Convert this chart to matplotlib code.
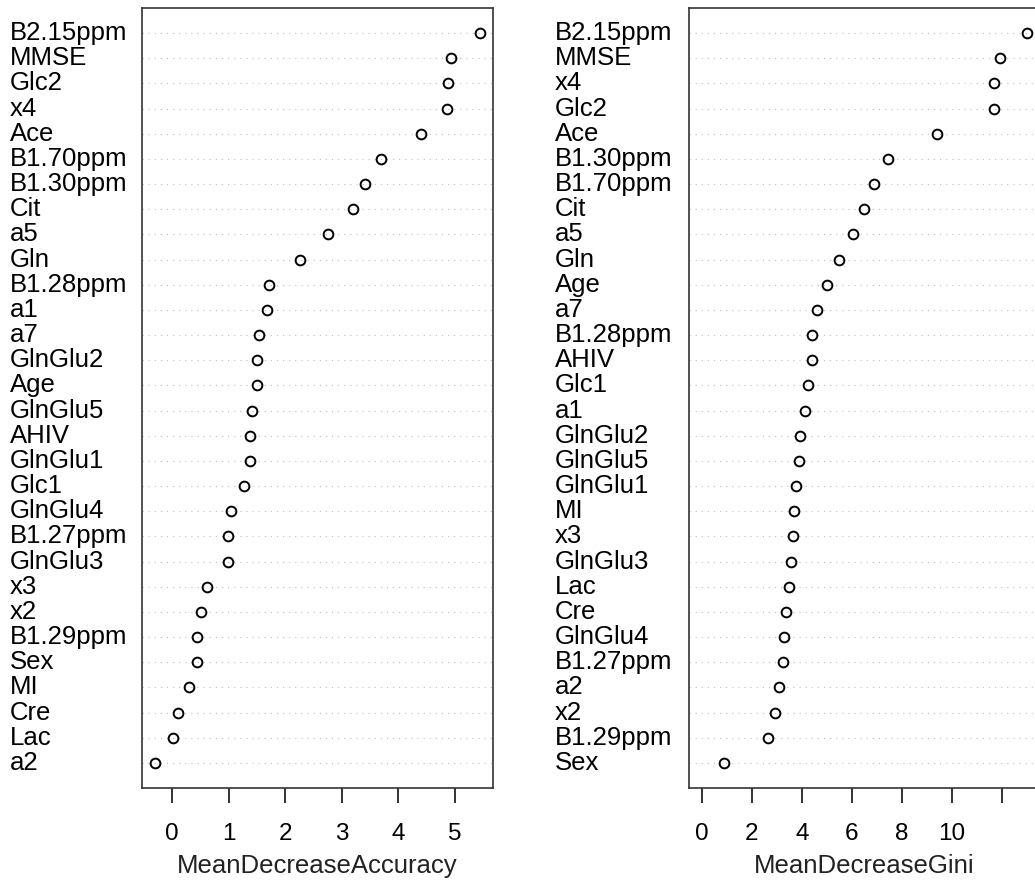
import matplotlib
matplotlib.use("Agg")
import matplotlib.pyplot as plt
import matplotlib.transforms as mtransforms

plt.rcParams['font.family'] = ['Liberation Sans', 'DejaVu Sans']

# Левая панель: MeanDecreaseAccuracy (сверху вниз)
acc_names = ['B2.15ppm', 'MMSE', 'Glc2', 'x4', 'Ace', 'B1.70ppm', 'B1.30ppm',
             'Cit', 'a5', 'Gln', 'B1.28ppm', 'a1', 'a7', 'GlnGlu2', 'Age',
             'GlnGlu5', 'AHIV', 'GlnGlu1', 'Glc1', 'GlnGlu4', 'B1.27ppm',
             'GlnGlu3', 'x3', 'x2', 'B1.29ppm', 'Sex', 'MI', 'Cre', 'Lac', 'a2']
acc_vals = [5.44, 4.93, 4.88, 4.85, 4.40, 3.70, 3.41, 3.19, 2.75, 2.26, 1.72,
            1.68, 1.54, 1.51, 1.51, 1.42, 1.37, 1.37, 1.28, 1.05, 0.99, 0.99,
            0.62, 0.51, 0.45, 0.45, 0.30, 0.10, 0.02, -0.30]

# Правая панель: MeanDecreaseGini
gini_names = ['B2.15ppm', 'MMSE', 'x4', 'Glc2', 'Ace', 'B1.30ppm', 'B1.70ppm',
              'Cit', 'a5', 'Gln', 'Age', 'a7', 'B1.28ppm', 'AHIV', 'Glc1', 'a1',
              'GlnGlu2', 'GlnGlu5', 'GlnGlu1', 'MI', 'x3', 'GlnGlu3', 'Lac',
              'Cre', 'GlnGlu4', 'B1.27ppm', 'a2', 'x2', 'B1.29ppm', 'Sex']
gini_vals = [13.02, 11.92, 11.69, 11.69, 9.42, 7.44, 6.88, 6.49, 6.03, 5.47,
             4.99, 4.60, 4.41, 4.40, 4.26, 4.14, 3.94, 3.89, 3.75, 3.70, 3.63,
             3.55, 3.49, 3.35, 3.30, 3.23, 3.10, 2.91, 2.64, 0.88]

W, H = 1035, 885
fig = plt.figure(figsize=(W / 100, H / 100), dpi=100)


def dotchart(left_px, label_px, names, vals, xmin, ticks, tick_labels, xlabel):
    ax = fig.add_axes([left_px / W, (H - 788) / H, 351 / W, 780 / H])
    n = len(names)
    ys = list(range(n, 0, -1))
    lo = xmin if xmin is not None else min(vals)
    hi = max(vals)
    pad = (hi - lo) * 0.04
    ax.set_xlim(lo - pad, hi + pad)
    ax.set_ylim(0, n + 1)

    for y in ys:
        ax.axhline(y, color='#bdbdbd', lw=0.8, linestyle=(0, (1, 4.5)), zorder=1)
    ax.plot(vals, ys, linestyle='none', marker='o', markersize=7,
            markerfacecolor='none', markeredgecolor='black',
            markeredgewidth=1.4, zorder=3)

    # Подписи переменных слева, выровненные по левому краю
    trans = mtransforms.blended_transform_factory(fig.transFigure, ax.transData)
    for name, y in zip(names, ys):
        ax.text(label_px / W, y, name, transform=trans, ha='left', va='center',
                fontsize=18.5, color='black')

    ax.set_yticks([])
    ax.set_xticks(ticks)
    ax.set_xticklabels(tick_labels)
    ax.tick_params(axis='x', direction='out', length=10.5, width=1.2,
                   labelsize=17.5, pad=15, color='#111111')
    ax.set_xlabel(xlabel, fontsize=18.5, labelpad=6, color='#222222')
    for s in ax.spines.values():
        s.set_linewidth(1.2)
        s.set_color('#333333')
    return ax


dotchart(142, 10, acc_names, acc_vals, None, [0, 1, 2, 3, 4, 5],
         ['0', '1', '2', '3', '4', '5'], 'MeanDecreaseAccuracy')
dotchart(689, 555, gini_names, gini_vals, 0, [0, 2, 4, 6, 8, 10, 12],
         ['0', '2', '4', '6', '8', '10', ''], 'MeanDecreaseGini')

fig.savefig('out.png', dpi=100)
